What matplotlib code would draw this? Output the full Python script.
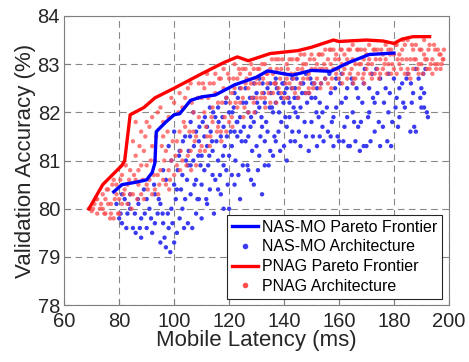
import matplotlib
matplotlib.use("Agg")
import matplotlib.pyplot as plt

plt.rcParams['font.family'] = ['Liberation Sans', 'DejaVu Sans']

# Pareto frontiers (latency ms, accuracy %)
nasmo_front_lat = [78, 81, 86, 90, 92, 93, 93.5, 97, 100, 102, 106, 110, 115, 122, 130, 134, 143, 150, 157, 163, 171, 180]
nasmo_front_acc = [80.35, 80.5, 80.55, 80.6, 80.75, 80.95, 81.6, 81.8, 81.95, 81.97, 82.25, 82.32, 82.36, 82.57, 82.73, 82.86, 82.77, 82.87, 82.85, 83.02, 83.2, 83.23]

pnag_front_lat = [69, 74, 81, 82, 84, 89, 93, 100, 110, 118, 123, 127, 135, 145, 150, 158, 160, 170, 176, 180, 183, 187, 193]
pnag_front_acc = [80.0, 80.5, 80.9, 81.0, 81.95, 82.1, 82.3, 82.5, 82.8, 83.03, 83.15, 83.07, 83.22, 83.28, 83.35, 83.5, 83.47, 83.5, 83.48, 83.43, 83.52, 83.57, 83.57]

# sampled architectures (latency ms, accuracy %)
nasmo_arch = [
    (79, 80.1), (80, 79.8), (81, 79.7), (82, 80.2), (83, 79.9), (84, 80.3), (85, 79.6), (86, 79.5), (84, 80.0), (81, 80.3),
    (87, 80.1), (88, 79.8), (89, 80.4), (90, 79.6), (91, 80.0), (92, 79.5), (93, 80.3), (94, 79.9), (95, 79.3), (96, 79.7),
    (88, 79.4), (90, 80.2), (93, 79.7), (95, 80.1),
    (97, 79.2), (98, 79.6), (99, 80.0), (100, 79.3), (101, 80.4), (102, 79.8), (103, 80.7), (104, 80.2), (105, 80.9),
    (97, 80.6), (99, 81.0), (100, 80.5), (102, 81.2), (104, 81.5), (96, 80.8), (98, 81.3), (101, 79.5), (103, 80.0),
    (105, 79.7), (100, 81.6),
    (106, 80.3), (107, 81.0), (108, 80.6), (109, 81.4), (110, 79.8), (111, 80.8), (112, 81.7), (113, 80.4), (114, 81.2),
    (115, 81.9), (106, 81.8), (108, 79.9), (110, 81.1), (112, 80.1), (114, 80.7), (107, 82.0), (109, 80.2), (111, 81.5),
    (113, 82.1), (115, 80.6), (106, 80.9), (108, 81.6), (110, 80.5), (112, 81.3),
    (116, 81.0), (117, 80.3), (118, 81.7), (119, 80.8), (120, 82.0), (121, 81.3), (122, 80.5), (123, 81.8), (124, 80.2),
    (125, 82.2), (116, 82.1), (117, 81.5), (118, 80.0), (119, 82.3), (120, 81.1), (121, 80.7), (122, 82.4), (123, 81.5),
    (124, 81.9), (125, 80.9), (116, 80.4), (118, 80.9), (120, 80.0), (122, 81.6), (124, 82.5),
    (126, 81.4), (127, 82.0), (128, 80.6), (129, 81.8), (130, 82.4), (131, 81.1), (132, 80.3), (133, 82.2), (134, 81.6),
    (135, 82.6), (126, 82.5), (127, 80.8), (128, 81.9), (129, 82.6), (130, 81.3), (131, 82.1), (132, 81.7), (133, 80.9),
    (134, 82.5), (135, 81.2), (127, 81.5), (129, 80.5), (131, 82.7), (133, 81.4),
    (136, 82.0), (137, 81.4), (138, 82.4), (139, 81.8), (140, 82.6), (141, 81.0), (142, 82.2), (143, 81.6), (144, 82.5),
    (145, 81.9), (136, 81.1), (137, 82.7), (138, 81.6), (139, 82.3), (140, 81.3), (141, 82.5), (142, 81.9), (143, 82.7),
    (144, 81.4), (145, 82.3), (137, 82.2), (141, 81.7),
    (146, 82.1), (147, 82.6), (148, 81.5), (149, 82.4), (150, 81.8), (151, 82.6), (152, 81.3), (153, 82.2), (154, 81.7),
    (155, 82.7), (146, 81.3), (148, 82.8), (150, 82.3), (152, 82.5), (154, 82.0), (149, 81.2), (153, 81.5),
    (156, 81.6), (157, 82.4), (158, 81.9), (159, 82.7), (160, 81.4), (161, 82.2), (162, 81.7), (163, 82.5), (164, 81.3),
    (165, 82.0), (157, 81.5), (159, 82.1), (161, 82.8), (163, 81.9), (165, 82.6), (158, 81.3),
    (166, 81.4), (167, 82.3), (168, 81.8), (169, 82.6), (170, 81.3), (171, 82.0), (172, 82.8), (173, 81.6), (174, 82.4),
    (175, 81.3), (167, 81.7), (169, 81.3), (171, 82.5), (173, 82.2), (175, 82.7),
    (176, 81.7), (177, 82.5), (178, 82.0), (179, 81.3), (180, 82.7), (181, 82.3), (182, 81.9), (183, 82.6), (184, 82.1),
    (185, 82.8), (178, 82.8), (182, 82.5),
    (186, 81.6), (187, 82.4), (188, 81.6), (189, 82.7), (190, 82.1), (191, 82.4), (192, 82.0), (188, 82.9), (190, 82.5),
    (191, 82.1),
    (80.5, 79.9), (82.6, 79.6), (83.4, 80.1), (85.7, 79.9), (86.8, 80.2), (87.5, 79.6), (89.3, 79.9), (91.6, 79.8),
    (92.7, 80.5), (94.4, 80.2), (95.8, 79.9), (96.5, 79.4), (97.7, 79.9), (98.6, 79.1), (99.4, 79.7), (100.6, 80.2),
    (101.3, 80.8), (102.5, 80.4), (103.6, 79.6), (104.7, 80.6), (105.3, 81.2), (106.6, 79.6), (107.4, 80.5), (108.5, 80.2),
    (109.6, 80.9), (110.4, 81.8), (111.7, 80.2), (112.4, 80.9), (113.3, 81.6), (114.5, 79.9), (115.4, 81.4), (116.7, 80.7),
    (117.6, 81.9), (118.4, 81.3), (119.5, 80.5), (120.6, 81.6), (121.7, 82.1), (122.3, 81.0), (123.4, 80.7), (124.6, 81.4),
    (125.4, 81.7), (126.7, 80.9), (127.6, 82.3), (128.4, 81.2), (129.6, 82.0), (130.5, 80.8), (131.4, 81.5), (132.6, 82.4),
    (133.5, 81.8), (134.4, 80.9), (135.6, 82.1), (136.5, 81.5), (137.4, 82.5), (138.6, 81.2), (139.4, 82.6), (140.5, 81.9),
    (141.6, 82.3), (142.4, 81.4), (143.5, 82.1), (144.6, 82.7), (145.4, 81.6), (146.6, 82.4), (147.5, 81.8), (148.4, 82.2),
    (149.6, 82.7), (150.5, 81.5), (151.4, 82.3), (152.6, 81.9), (153.5, 82.6), (154.4, 81.4), (155.6, 82.1), (156.5, 82.8),
    (157.4, 81.8), (158.6, 82.5), (159.5, 81.5), (160.4, 82.6), (161.6, 81.4), (162.5, 82.3), (163.4, 81.3), (164.6, 82.7),
    (165.5, 81.8), (166.4, 82.5), (167.6, 81.2), (168.5, 82.2), (169.4, 82.9), (170.6, 81.9), (171.5, 81.4), (172.4, 82.3),
    (173.6, 82.9), (174.5, 81.8), (176.4, 82.2), (177.6, 81.4), (178.5, 82.4), (179.4, 81.8), (180.6, 82.1), (181.5, 81.7),
    (183.4, 82.2), (184.6, 82.7), (186.5, 82.2), (187.4, 81.7), (189.6, 82.3), (191.5, 82.9), (192.4, 81.9), (186.2, 82.6),
    (190.7, 82.8),
    (101.8, 81.1), (103.2, 81.4), (104.3, 81.0), (105.8, 81.5), (107.2, 81.3), (108.8, 81.1), (109.2, 81.7), (111.2, 81.9),
    (112.8, 81.1), (113.8, 81.4), (114.2, 82.0), (116.2, 81.8), (117.8, 81.1), (118.8, 82.2), (119.2, 81.5), (121.2, 82.0),
    (122.8, 81.8), (123.2, 82.3), (124.2, 81.6), (126.2, 82.2), (127.8, 81.7), (128.8, 82.3), (130.2, 82.2), (131.8, 81.9),
    (132.2, 82.6), (134.8, 82.1), (135.2, 82.4), (136.8, 82.6), (138.2, 82.0), (139.8, 82.2), (140.2, 82.4), (142.8, 82.5),
    (143.8, 82.3), (144.2, 82.0), (146.2, 82.6), (147.8, 82.4), (150.2, 82.6), (151.8, 82.0),
]

pnag_arch = [
    (69, 80.0), (70, 79.95), (71, 80.1), (72, 80.2), (73, 80.0), (74, 80.3), (75, 79.9), (76, 80.4), (77, 80.1), (78, 79.8),
    (79, 80.5), (80, 80.2), (72, 79.9), (74, 80.0), (76, 80.1), (78, 80.6), (80, 79.9), (75, 80.2), (77, 79.9), (79, 80.3),
    (81, 80.7), (82, 80.4), (83, 80.1), (84, 80.8), (85, 80.3), (86, 81.1), (87, 80.5), (88, 81.6), (89, 80.2), (90, 80.9),
    (81, 80.1), (83, 80.5), (85, 81.4), (86, 81.8), (87, 80.8), (88, 80.3), (89, 81.2), (90, 80.5), (84, 80.3), (86, 80.6),
    (88, 80.9), (90, 81.8),
    (91, 80.6), (92, 81.3), (93, 80.4), (94, 82.0), (95, 80.8), (96, 81.5), (97, 80.5), (98, 81.9), (99, 81.0), (100, 82.2),
    (91, 81.7), (92, 80.3), (93, 81.0), (94, 80.7), (95, 82.1), (96, 80.6), (97, 81.2), (98, 80.8), (99, 82.3), (100, 80.7),
    (92, 81.9), (96, 81.8),
    (101, 81.4), (102, 82.4), (103, 81.0), (104, 81.7), (105, 82.5), (106, 81.2), (107, 82.0), (108, 81.5), (109, 82.6),
    (110, 81.3), (101, 80.9), (103, 82.1), (105, 81.1), (107, 81.6), (109, 81.9), (102, 81.6), (104, 82.3), (106, 82.6),
    (108, 80.9), (110, 82.3),
    (111, 82.0), (112, 81.5), (113, 82.6), (114, 81.8), (115, 82.8), (116, 82.2), (117, 81.6), (118, 82.9), (119, 82.3),
    (120, 81.8), (111, 82.5), (113, 81.3), (115, 82.4), (117, 82.7), (119, 81.6), (112, 82.8), (114, 82.1), (116, 81.7),
    (118, 82.5), (120, 82.7),
    (121, 82.4), (122, 83.0), (123, 82.1), (124, 82.8), (125, 82.3), (126, 82.9), (127, 82.0), (128, 82.6), (129, 82.9),
    (130, 82.3), (121, 81.9), (123, 82.7), (125, 82.9), (127, 82.5), (129, 82.2), (122, 82.5), (124, 82.2), (126, 82.6),
    (128, 83.0), (130, 82.7),
    (131, 82.9), (132, 82.4), (133, 83.0), (134, 82.6), (135, 82.2), (136, 82.8), (137, 83.1), (138, 82.5), (139, 82.9),
    (140, 82.3), (131, 82.6), (133, 82.3), (135, 82.9), (137, 82.6), (139, 82.4), (132, 83.0), (134, 82.8), (136, 82.4),
    (138, 83.1), (140, 82.8),
    (141, 83.0), (142, 82.6), (143, 83.1), (144, 82.4), (145, 82.9), (146, 83.2), (147, 82.7), (148, 83.0), (149, 82.5),
    (150, 83.2), (141, 82.7), (143, 82.5), (145, 83.1), (147, 83.0), (149, 82.8), (142, 83.1), (144, 82.8), (146, 82.6),
    (148, 82.4), (150, 82.9),
    (151, 83.1), (152, 82.7), (153, 83.2), (154, 82.9), (155, 83.3), (156, 82.6), (157, 83.0), (158, 83.3), (159, 82.8),
    (160, 83.1), (151, 82.6), (153, 82.9), (155, 82.7), (157, 83.3), (159, 83.2), (152, 83.0), (154, 83.2), (156, 83.1),
    (158, 82.9), (160, 82.7),
    (161, 83.3), (162, 82.9), (163, 83.1), (164, 82.8), (165, 83.4), (166, 83.0), (167, 82.8), (168, 83.3), (169, 83.1),
    (170, 82.9), (161, 83.0), (163, 82.7), (165, 83.1), (167, 83.3), (169, 82.8), (162, 83.2), (164, 83.3), (166, 82.7),
    (168, 83.0), (170, 83.2),
    (171, 83.4), (172, 83.0), (173, 82.8), (174, 83.3), (175, 83.1), (176, 82.9), (177, 83.4), (178, 83.0), (179, 82.8),
    (180, 83.2), (171, 83.1), (173, 83.3), (175, 82.8), (177, 83.1), (179, 83.3), (172, 82.7), (174, 82.9), (176, 83.2),
    (178, 83.3), (180, 82.9),
    (181, 83.4), (182, 83.0), (183, 83.3), (184, 82.8), (185, 83.5), (186, 83.1), (187, 82.9), (188, 83.4), (189, 83.0),
    (190, 83.3), (181, 82.8), (183, 83.1), (185, 82.9), (187, 83.3), (189, 82.8), (182, 83.2), (184, 83.4), (186, 82.7),
    (188, 83.1), (190, 83.0),
    (191, 83.2), (192, 82.9), (193, 83.4), (194, 83.1), (195, 83.0), (196, 83.3), (197, 82.9), (198, 83.1), (191, 83.5),
    (193, 82.9), (195, 83.3), (197, 83.2), (192, 83.1), (194, 82.8), (196, 83.0),
    (70.5, 80.0), (71.6, 80.2), (73.4, 80.1), (74.6, 79.9), (75.5, 80.4), (76.7, 79.8), (77.5, 80.5), (78.4, 80.2),
    (79.6, 79.9), (80.4, 80.6), (81.6, 80.3), (82.4, 80.9), (83.6, 80.6), (84.5, 80.0), (85.4, 80.7), (86.6, 80.2),
    (87.4, 81.3), (88.6, 80.6), (89.5, 81.5), (90.4, 80.4), (91.5, 81.0), (92.6, 80.7), (93.4, 81.5), (94.6, 80.5),
    (95.5, 81.3), (96.4, 81.0), (97.6, 81.6), (98.5, 80.6), (99.5, 81.4), (100.5, 81.1), (101.6, 82.0), (102.4, 81.2),
    (103.5, 81.8), (104.5, 80.9), (105.6, 81.6), (106.4, 82.2), (107.5, 81.4), (108.6, 82.3), (109.4, 81.2), (110.5, 82.6),
    (111.6, 81.7), (112.4, 82.3), (113.6, 81.9), (114.4, 82.6), (115.6, 81.6), (116.4, 82.7), (117.5, 82.2), (118.4, 81.9),
    (119.6, 82.8), (120.4, 82.2), (121.6, 82.7), (122.4, 82.2), (123.6, 82.9), (124.4, 82.5), (125.6, 82.1), (126.4, 82.7),
    (127.6, 82.8), (128.4, 82.3), (129.6, 82.6), (130.4, 82.9), (131.6, 82.3), (132.4, 82.7), (133.6, 82.8), (134.4, 82.4),
    (135.6, 83.1), (136.4, 82.6), (137.4, 82.9), (138.6, 82.7), (139.4, 83.1), (140.6, 82.6), (141.4, 82.9), (142.6, 82.8),
    (143.4, 82.7), (144.6, 83.1), (145.4, 82.5), (146.6, 82.9), (147.4, 83.2), (148.6, 82.7), (149.4, 83.1), (150.6, 82.5),
    (151.4, 82.9), (152.6, 83.2), (153.4, 82.6), (154.6, 83.0), (155.4, 82.9), (156.6, 83.3), (157.4, 82.7), (158.6, 83.1),
    (159.4, 82.9), (160.6, 83.3), (161.4, 82.8), (162.6, 83.0), (163.4, 83.3), (164.6, 82.9), (165.4, 82.7), (166.6, 83.3),
    (167.4, 83.0), (168.6, 82.7), (169.4, 83.3), (170.6, 83.0), (171.4, 82.8), (172.6, 83.3), (173.4, 83.1), (174.6, 82.7),
    (175.4, 83.3), (176.6, 83.0), (177.4, 82.8), (178.6, 83.2), (179.4, 83.0), (180.6, 83.4), (181.4, 83.1), (182.6, 82.9),
    (183.4, 83.5), (184.6, 83.1), (185.4, 82.8), (186.6, 83.4), (187.4, 83.1), (188.6, 82.9), (189.4, 83.3), (190.6, 82.8),
    (191.4, 83.1), (192.6, 83.3), (193.4, 83.0), (194.6, 83.4), (195.4, 82.9), (196.6, 83.2), (197.4, 83.0), (198.2, 83.3),
    (197.8, 83.1),
    (111.2, 81.2), (113.2, 81.5), (117.2, 81.4), (121.2, 81.7), (125.2, 81.9), (129.2, 82.0), (133.2, 82.1), (137.2, 82.2),
    (141.2, 82.3), (145.2, 82.3), (149.2, 82.4), (153.2, 82.5), (157.2, 82.5), (161.2, 82.6), (165.2, 82.6), (169.2, 82.6),
    (102.2, 80.8), (106.2, 80.8), (98.2, 80.4), (94.2, 80.3),
]

fig = plt.figure(figsize=(4.69, 3.62), dpi=100)
ax = fig.add_axes([0.137, 0.157, 0.820, 0.799])

nx_, ny_ = zip(*nasmo_arch)
px_, py_ = zip(*pnag_arch)
ax.scatter(nx_, ny_, s=10, color='#3b3bf2', edgecolors='none', zorder=2)
ax.scatter(px_, py_, s=10, color='#ff4d4d', alpha=0.75, edgecolors='none', zorder=3)
ax.plot(nasmo_front_lat, nasmo_front_acc, color='#0000ff', lw=2.4, zorder=4)
ax.plot(pnag_front_lat, pnag_front_acc, color='#ff0000', lw=2.4, zorder=4)

ax.set_xlim(60, 200)
ax.set_ylim(78, 84)
ax.set_xticks(range(60, 201, 20))
ax.set_yticks(range(78, 85))
ax.grid(True, color='#888888', linestyle=(0, (6, 4)), linewidth=0.8, zorder=0)
ax.set_axisbelow(True)
for sp in ax.spines.values():
    sp.set_color('#7f7f7f')
ax.tick_params(direction='in', colors='#7f7f7f', labelcolor='#262626', labelsize=14.5, length=4)
ax.tick_params(axis='x', pad=5)
ax.tick_params(axis='y', pad=3)
ax.set_xlabel('Mobile Latency (ms)', fontsize=16, color='#262626', labelpad=-1)
ax.set_ylabel('Validation Accuracy (%)', fontsize=16, color='#262626', labelpad=1)

handles = [
    plt.Line2D([0], [0], color='#0000ff', lw=2.4, label='NAS-MO Pareto Frontier'),
    plt.Line2D([0], [0], marker='o', color='w', markerfacecolor='#3b3bf2', markeredgecolor='none', markersize=4, label='NAS-MO Architecture'),
    plt.Line2D([0], [0], color='#ff0000', lw=2.4, label='PNAG Pareto Frontier'),
    plt.Line2D([0], [0], marker='o', color='w', markerfacecolor='#ff4d4d', markeredgecolor='none', markersize=4, label='PNAG Architecture'),
]
leg = ax.legend(handles=handles, loc='lower right', fontsize=11.5, frameon=True, fancybox=False,
                edgecolor='#262626', framealpha=1, handlelength=1.6, handletextpad=0.3,
                borderpad=0.3, labelspacing=0.3, borderaxespad=0.4)
leg.get_frame().set_linewidth(0.8)

fig.savefig('out.png', dpi=100)
